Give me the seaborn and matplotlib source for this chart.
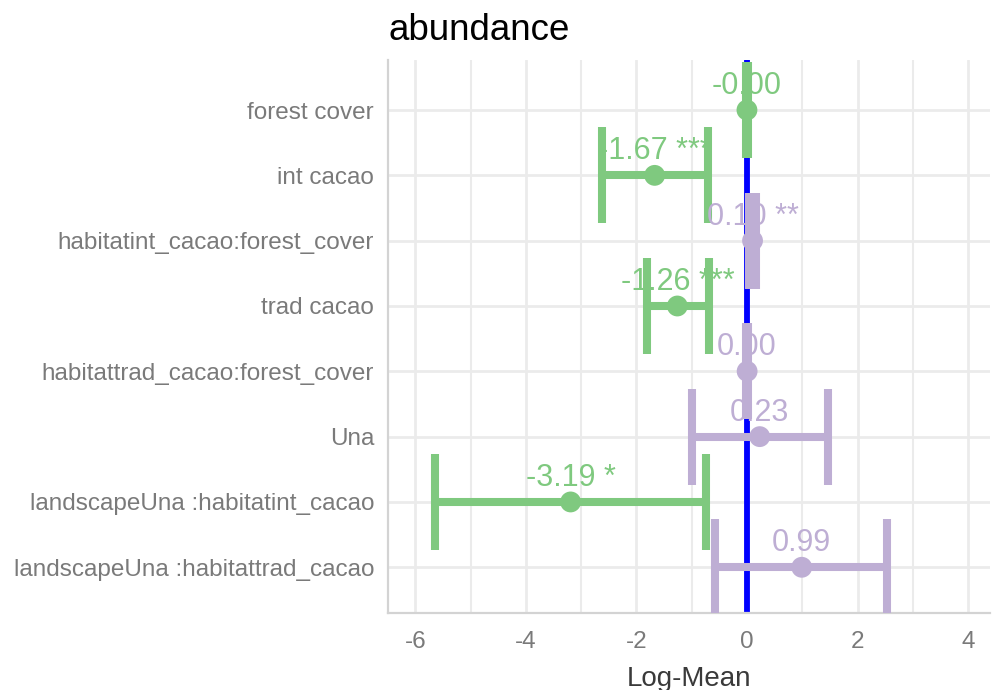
import numpy as np
import pandas as pd
import matplotlib
matplotlib.use("Agg")
import matplotlib.pyplot as plt
from matplotlib.ticker import MultipleLocator
import seaborn as sns

# Model terms, top to bottom
terms = [
    "forest cover",
    "int cacao",
    "habitatint_cacao:forest_cover",
    "trad cacao",
    "habitattrad_cacao:forest_cover",
    "Una",
    "landscapeUna :habitatint_cacao",
    "landscapeUna :habitattrad_cacao",
]
estimates = [-0.001, -1.67, 0.10, -1.26, 0.002, 0.23, -3.19, 0.99]
ci_low = [-0.02, -2.62, 0.04, -1.81, -0.01, -0.99, -5.64, -0.58]
ci_high = [0.02, -0.71, 0.17, -0.69, 0.02, 1.47, -0.74, 2.53]
stars = ["", "***", "**", "***", "", "", "*", ""]

x_ticks = [-6, -4, -2, 0, 2, 4]

NEG_COLOR = "#7FC97F"
POS_COLOR = "#BEAED4"

df = pd.DataFrame({
    "term": terms,
    "estimate": estimates,
    "low": ci_low,
    "high": ci_high,
    "stars": stars,
})
df["pos"] = np.arange(len(df))
df["sign"] = np.where(df["estimate"] < 0, "neg", "pos")
palette = {"neg": NEG_COLOR, "pos": POS_COLOR}

sns.set_theme(style="whitegrid")
plt.rcParams["font.family"] = ["Liberation Sans", "DejaVu Sans"]
plt.rcParams["axes.unicode_minus"] = False

fig = plt.figure(figsize=(9.92, 6.9), dpi=100)
ax = fig.add_axes([388 / 992, 1 - 613 / 690, (990 - 388) / 992, (613 - 60) / 690])

# Reference line at zero
ax.axvline(0, color="#0000FF", lw=4.2, zorder=2)

cap_half = 0.735
for _, r in df.iterrows():
    c = palette[r["sign"]]
    ax.hlines(r["pos"], r["low"], r["high"], color=c, lw=5.8, zorder=3)
    ax.vlines([r["low"], r["high"]], r["pos"] - cap_half, r["pos"] + cap_half,
              color=c, lw=5.8, zorder=3)

sns.scatterplot(data=df, x="estimate", y="pos", hue="sign", palette=palette,
                s=225, edgecolor="none", legend=False, zorder=4, ax=ax)

for _, r in df.iterrows():
    label = f"{r['estimate']:.2f}"
    if r["stars"]:
        label += " " + r["stars"]
    ax.annotate(label, (r["estimate"], r["pos"]), xytext=(0, 24),
                textcoords="offset pixels", ha="center", va="center",
                fontsize=22, color=palette[r["sign"]], zorder=5)

ax.set_xlim(-6.492, 4.394)
ax.set_ylim(7.70, -0.766)
ax.set_yticks(df["pos"])
ax.set_yticklabels(df["term"])
ax.xaxis.set_major_locator(MultipleLocator(2))
ax.xaxis.set_minor_locator(MultipleLocator(1))
ax.set_xticks(x_ticks)

ax.grid(which="major", color="#EBEBEB", lw=2.0)
ax.grid(which="minor", axis="x", color="#EBEBEB", lw=1.5)
ax.set_axisbelow(True)

for s in ["top", "right"]:
    ax.spines[s].set_visible(False)
for s in ["left", "bottom"]:
    ax.spines[s].set_color("#D3D3D3")
    ax.spines[s].set_linewidth(1.6)

ax.tick_params(axis="both", which="both", length=0, labelsize=17.5,
               labelcolor="#7A7A7A")
ax.tick_params(axis="x", pad=13)
ax.tick_params(axis="y", pad=10)

ax.set_ylabel("")
ax.set_xlabel("Log-Mean", fontsize=20, color="#3A3A3A", labelpad=9)

fig.text(388 / 992, 1 - 40 / 690, "abundance", ha="left", va="baseline",
         fontsize=26.5, color="black")

fig.savefig("out.png", dpi=100)
